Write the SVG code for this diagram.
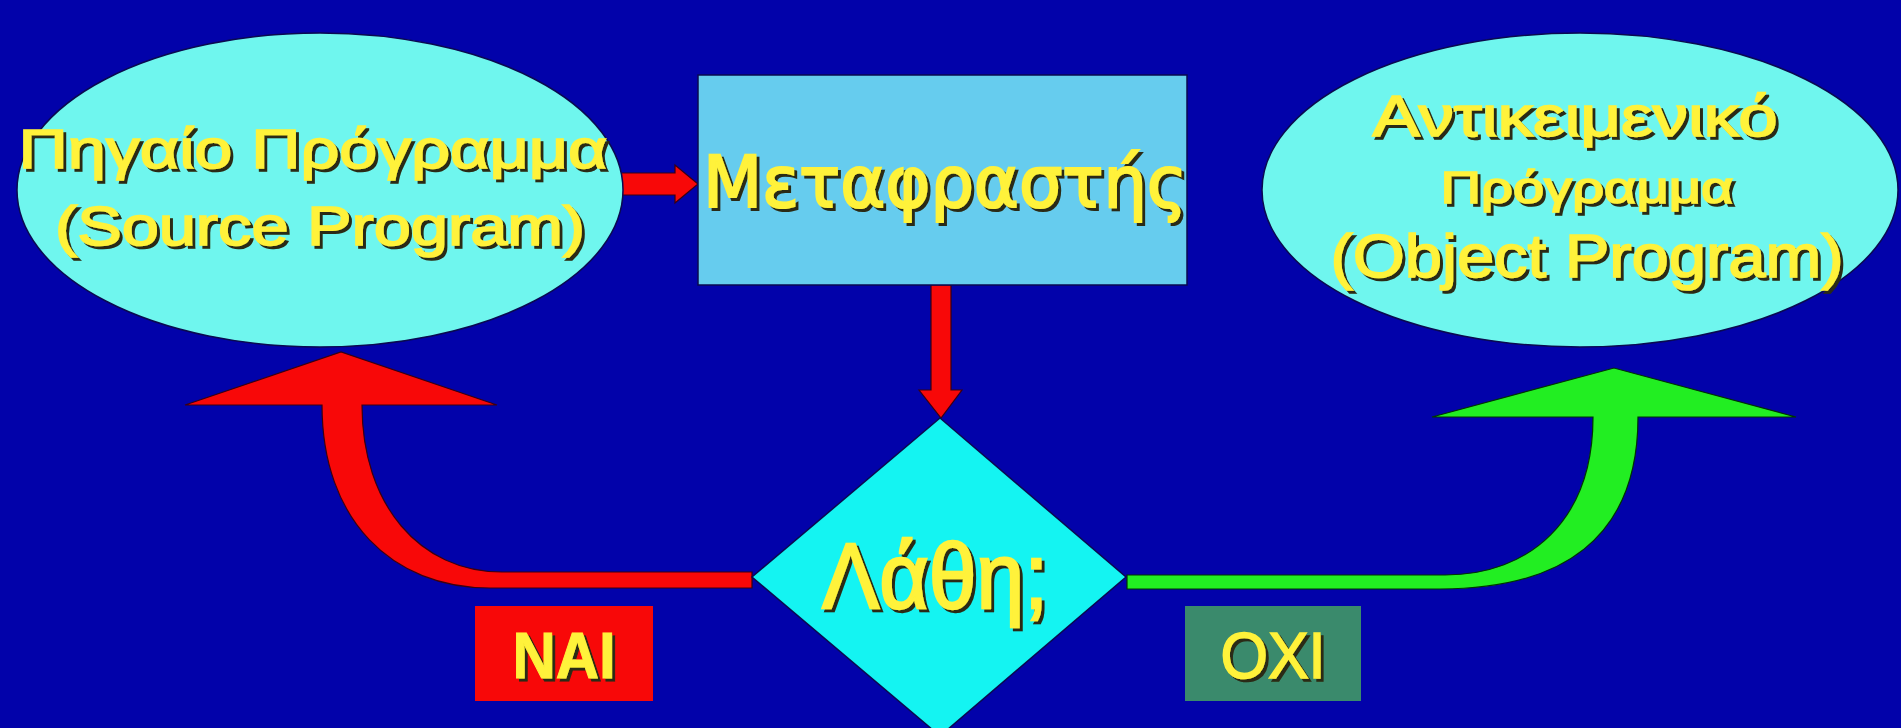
<svg xmlns="http://www.w3.org/2000/svg" width="1901" height="728" viewBox="0 0 1901 728">
  <style>
    .bg { fill: #0202aa; }
    .oval { fill: #6ff6ee; stroke: #0a0a50; stroke-width: 1.5; }
    .box { fill: #66ccee; stroke: #0a0a50; stroke-width: 1.5; }
    .decision { fill: #14f4f2; stroke: #0a0a50; stroke-width: 1.5; }
    .red { fill: #f80808; stroke: #3a0010; stroke-width: 1.2; }
    .green { fill: #22ee22; stroke: #003300; stroke-width: 1.2; }
    .txt { fill: #fff23a; stroke: #fff23a; stroke-width: 1.6; font-family: "Liberation Sans", Arial, sans-serif; text-anchor: middle; filter: url(#shadow); }
    .round { font-family: "DejaVu Sans", Verdana, sans-serif; stroke-width: 2.2; }
    .bold { font-weight: bold; stroke-width: 1; }
  </style>
  <defs>
    <!-- dark drop shadow under the yellow lettering -->
    <filter id="shadow" x="-5%" y="-20%" width="110%" height="150%">
      <feOffset in="SourceAlpha" dx="3" dy="3" result="off"/>
      <feFlood flood-color="#2b2b14"/>
      <feComposite in2="off" operator="in" result="sh"/>
      <feMerge>
        <feMergeNode in="sh"/>
        <feMergeNode in="SourceGraphic"/>
      </feMerge>
    </filter>
  </defs>

  <rect class="bg" x="0" y="0" width="1901" height="728"/>

  <!-- connectors -->
  <g id="connectors">
    <!-- source -> translator -->
    <polygon class="red" points="618,173 675,173 675,165 698,184 675,203 675,195 618,195"/>
    <!-- translator -> decision -->
    <polygon class="red" points="931,285 951,285 951,390 962,390 941,418 919,390 931,390"/>
    <!-- yes: back to source -->
    <path class="red" d="M752,572 L502,572 C420,572 362,505 362,405 L497,405 L341,352 L185,405 L322,405 C322,520 392,588 490,588 L752,588 Z"/>
    <!-- no: on to object program -->
    <path class="green" d="M1127,575 L1445,575 C1530,575 1593,520 1593,417 L1432,417 L1614,368 L1796,417 L1638,417 C1638,540 1560,589 1440,589 L1127,589 Z"/>
  </g>

  <g id="source">
    <ellipse class="oval" cx="320" cy="190" rx="303" ry="157"/>
    <text class="txt" x="313" y="168" font-size="56" textLength="589" lengthAdjust="spacingAndGlyphs">Πηγαίο Πρόγραμμα</text>
    <text class="txt" x="320" y="245" font-size="56" textLength="530" lengthAdjust="spacingAndGlyphs">(Source Program)</text>
  </g>

  <g id="translator">
    <rect class="box" x="698" y="75" width="489" height="210"/>
    <text class="txt round" x="945" y="207" font-size="72" textLength="484" lengthAdjust="spacingAndGlyphs">Μεταφραστής</text>
  </g>

  <g id="object">
    <ellipse class="oval" cx="1580" cy="190" rx="318" ry="157"/>
    <text class="txt" x="1575" y="136" font-size="57" textLength="405" lengthAdjust="spacingAndGlyphs">Αντικειμενικό</text>
    <text class="txt" x="1587" y="203" font-size="44" textLength="293" lengthAdjust="spacingAndGlyphs">Πρόγραμμα</text>
    <text class="txt" x="1587" y="277" font-size="62" textLength="513" lengthAdjust="spacingAndGlyphs">(Object Program)</text>
  </g>

  <g id="errors">
    <polygon class="decision" points="940,418 1126,577 940,736 752,577"/>
    <text class="txt" x="935" y="608" font-size="92" textLength="226" lengthAdjust="spacingAndGlyphs" style="stroke-width:2.4">Λάθη;</text>
  </g>

  <g id="yes-label">
    <rect x="475" y="606" width="178" height="95" fill="#f80808"/>
    <text class="txt bold" x="564" y="678" font-size="64" textLength="103" lengthAdjust="spacingAndGlyphs">NAI</text>
  </g>

  <g id="no-label">
    <rect x="1185" y="606" width="176" height="95" fill="#3a8a6c"/>
    <text class="txt" x="1273" y="678" font-size="64" textLength="105" lengthAdjust="spacingAndGlyphs">OXI</text>
  </g>
</svg>
